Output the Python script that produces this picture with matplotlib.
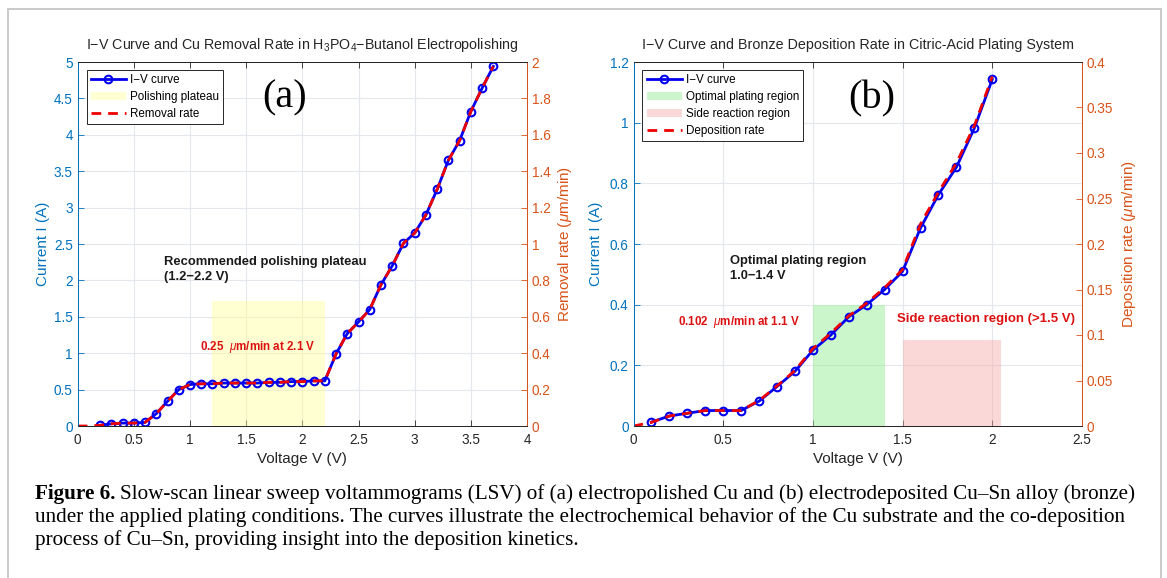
import matplotlib
matplotlib.use("Agg")
import matplotlib.pyplot as plt
from matplotlib.patches import Rectangle
import numpy as np

# ---------------- data ----------------
# Panel (a): H3PO4-butanol electropolishing
v_a = [0.2, 0.3, 0.4, 0.5, 0.6, 0.7, 0.8, 0.9, 1.0, 1.1, 1.2, 1.3, 1.4, 1.5, 1.6,
       1.7, 1.8, 1.9, 2.0, 2.1, 2.2, 2.3, 2.4, 2.5, 2.6, 2.7, 2.8, 2.9, 3.0, 3.1,
       3.2, 3.3, 3.4, 3.5, 3.6, 3.7]
i_a = [0.01, 0.03, 0.04, 0.04, 0.05, 0.17, 0.34, 0.50, 0.57, 0.58, 0.58, 0.59,
       0.59, 0.59, 0.59, 0.60, 0.60, 0.61, 0.61, 0.62, 0.62, 0.99, 1.27, 1.43,
       1.60, 1.94, 2.20, 2.51, 2.65, 2.90, 3.25, 3.65, 3.92, 4.32, 4.64, 4.94]
v_rate_a = [0.0, 0.1, 0.2, 0.3, 0.4, 0.5, 0.6, 0.7, 0.8, 0.9, 1.0, 1.1, 1.2, 1.3,
            1.4, 1.5, 1.6, 1.7, 1.8, 1.9, 2.0, 2.1, 2.2, 2.3, 2.4, 2.5, 2.6, 2.7,
            2.8, 2.9, 3.0, 3.1, 3.2, 3.3, 3.4, 3.5, 3.6, 3.7]
rate_a = [0.0, 0.0, 0.004, 0.012, 0.016, 0.016, 0.020, 0.068, 0.136, 0.200, 0.228,
          0.232, 0.232, 0.236, 0.236, 0.236, 0.236, 0.240, 0.240, 0.244, 0.244,
          0.248, 0.248, 0.396, 0.508, 0.572, 0.640, 0.776, 0.880, 1.004, 1.060,
          1.160, 1.300, 1.460, 1.568, 1.728, 1.856, 1.976]
plateau_a = (1.2, 2.2)
plateau_top_a = 1.72

# Panel (b): citric-acid bronze plating
v_b = [0.1, 0.2, 0.3, 0.4, 0.5, 0.6, 0.7, 0.8, 0.9, 1.0, 1.1, 1.2, 1.3, 1.4, 1.5,
       1.6, 1.7, 1.8, 1.9, 2.0]
i_b = [0.013, 0.033, 0.042, 0.051, 0.051, 0.051, 0.082, 0.13, 0.18, 0.25, 0.30,
       0.36, 0.40, 0.45, 0.51, 0.653, 0.763, 0.853, 0.982, 1.143]
v_rate_b = [0.0, 0.1, 0.2, 0.3, 0.4, 0.5, 0.6, 0.7, 0.8, 0.9, 1.0, 1.1, 1.2, 1.3,
            1.4, 1.5, 1.6, 1.7, 1.8, 1.9, 2.0]
rate_b = [0.0, 0.004, 0.011, 0.014, 0.017, 0.017, 0.017, 0.028, 0.044, 0.061,
          0.085, 0.102, 0.121, 0.135, 0.152, 0.172, 0.222, 0.257, 0.289, 0.330,
          0.384]
optimal_b = (1.0, 1.4)
optimal_top_b = 0.40
side_b = (1.5, 2.05)
side_top_b = 0.285

caption_lines = [
    "Slow-scan linear sweep voltammograms (LSV) of (a) electropolished Cu and (b) electrodeposited Cu\u2013Sn alloy (bronze)",
    "under the applied plating conditions. The curves illustrate the electrochemical behavior of the Cu substrate and the co-deposition",
    "process of Cu\u2013Sn, providing insight into the deposition kinetics.",
]

# ---------------- style ----------------
plt.rcParams['font.family'] = ['Liberation Sans', 'DejaVu Sans']
plt.rcParams['mathtext.fontset'] = 'custom'
plt.rcParams['mathtext.rm'] = 'Liberation Sans'
plt.rcParams['mathtext.it'] = 'Liberation Sans:italic'
plt.rcParams['mathtext.bf'] = 'Liberation Sans:bold'

C_LEFT = '#0072BD'
C_RIGHT = '#D95319'
C_AX = '#262626'
C_GRID = '#E4E8EC'

W, H = 1167, 578
fig = plt.figure(figsize=(W / 100, H / 100), dpi=100)

# outer frame
fig.add_artist(Rectangle((8 / W, -0.1), (1161 - 8) / W, 1.1 - 9 / H,
                         transform=fig.transFigure, fill=False,
                         edgecolor='#C9C9C9', linewidth=1.4))

fmt = matplotlib.ticker.FuncFormatter(lambda v, p: ('%g' % round(v, 3)))
TICK_FS = 9.8
LAB_FS = 11


def style_axes(ax1, ax2, xlim, xticks, ylim1, yticks1, ylim2, yticks2):
    ax1.set_xlim(*xlim)
    ax1.set_ylim(*ylim1)
    ax2.set_ylim(*ylim2)
    ax1.set_xticks(xticks)
    ax1.set_yticks(yticks1)
    ax2.set_yticks(yticks2)
    ax1.xaxis.set_major_formatter(fmt)
    ax1.yaxis.set_major_formatter(fmt)
    ax2.yaxis.set_major_formatter(fmt)
    ax1.grid(True, color=C_GRID, linewidth=0.8)
    ax1.set_axisbelow(True)
    ax1.tick_params(axis='x', direction='in', top=True, length=4.5, width=0.6,
                    colors=C_AX, labelsize=TICK_FS, pad=5)
    ax1.tick_params(axis='y', direction='in', left=True, right=False, length=4.5,
                    width=0.6, colors=C_LEFT, labelsize=TICK_FS)
    ax2.tick_params(axis='y', direction='in', right=True, left=False, length=4.5,
                    width=0.6, colors=C_RIGHT, labelsize=TICK_FS)
    for a in (ax1, ax2):
        a.spines['top'].set_color(C_AX)
        a.spines['bottom'].set_color(C_AX)
        a.spines['left'].set_color(C_LEFT)
        a.spines['right'].set_color(C_RIGHT)
        for s in a.spines.values():
            s.set_linewidth(0.7)


leg_kw = dict(loc='upper left', bbox_to_anchor=(0.02, 0.978), fontsize=8.4,
              frameon=True, fancybox=False, edgecolor=C_AX, framealpha=1,
              handlelength=3.0, handletextpad=0.35, borderpad=0.35,
              labelspacing=0.42, borderaxespad=0)

# ---------------- panel (a) ----------------
ax1 = fig.add_axes([77.7 / W, (H - 426) / H, 449.3 / W, 364 / H])
ax2 = ax1.twinx()
style_axes(ax1, ax2, (0, 4), np.arange(0, 4.01, 0.5), (0, 5), np.arange(0, 5.01, 0.5),
           (0, 2), np.arange(0, 2.01, 0.2))

p_a = ax1.fill_between(plateau_a, 0, plateau_top_a, color='#FFFF99', alpha=0.45,
                       linewidth=0, label='Polishing plateau')
l_a, = ax1.plot(v_a, i_a, '-o', color='#0000EE', linewidth=2, markersize=5.5,
                markerfacecolor='none', markeredgewidth=1.5, label='I\u2212V curve')
r_a, = ax2.plot(v_rate_a, rate_a, '--', color='#EE0000', linewidth=2,
                dashes=(3.5, 2.5), label='Removal rate')

ax1.set_xlabel('Voltage V (V)', fontsize=LAB_FS, color=C_AX, labelpad=4)
ax1.set_ylabel('Current I (A)', fontsize=LAB_FS, color=C_LEFT, labelpad=3)
ax2.set_ylabel(r'Removal rate ($\mu$m/min)', fontsize=LAB_FS, color=C_RIGHT, labelpad=4)
ax1.set_title('I\u2212V Curve and Cu Removal Rate in H$_3$PO$_4$\u2212Butanol Electropolishing',
              fontsize=10.3, color=C_AX, pad=9)

ax1.text(1.84, 4.5, '(a)', fontsize=29, family='Liberation Serif', ha='center',
         va='center', color='black')
ax1.text(0.77, 2.15, 'Recommended polishing plateau\n(1.2\u22122.2 V)', fontsize=9.4,
         fontweight='bold', color='#1A1A1A', ha='left', va='center', linespacing=1.35)
ax1.text(1.09, 1.08, r'0.25  $\mathit{\mu}$m/min at 2.1 V', fontsize=8.4,
         fontweight='bold', color='#DD1111', ha='left', va='center')

leg = ax2.legend([l_a, p_a, r_a], ['I\u2212V curve', 'Polishing plateau', 'Removal rate'],
                 **leg_kw)
leg.get_frame().set_linewidth(0.7)

# ---------------- panel (b) ----------------
bx1 = fig.add_axes([633.5 / W, (H - 426) / H, 448.5 / W, 364 / H])
bx2 = bx1.twinx()
style_axes(bx1, bx2, (0, 2.5), np.arange(0, 2.51, 0.5), (0, 1.2), np.arange(0, 1.21, 0.2),
           (0, 0.4), np.arange(0, 0.401, 0.05))

g_b = bx1.fill_between(optimal_b, 0, optimal_top_b, color='#99EE99', alpha=0.5,
                       linewidth=0, label='Optimal plating region')
s_b = bx1.fill_between(side_b, 0, side_top_b, color='#F5AAAA', alpha=0.45,
                       linewidth=0, label='Side reaction region')
l_b, = bx1.plot(v_b, i_b, '-o', color='#0000EE', linewidth=2, markersize=5.5,
                markerfacecolor='none', markeredgewidth=1.5, label='I\u2212V curve')
r_b, = bx2.plot(v_rate_b, rate_b, '--', color='#EE0000', linewidth=2,
                dashes=(3.5, 2.5), label='Deposition rate')

bx1.set_xlabel('Voltage V (V)', fontsize=LAB_FS, color=C_AX, labelpad=4)
bx1.set_ylabel('Current I (A)', fontsize=LAB_FS, color=C_LEFT, labelpad=5)
bx2.set_ylabel(r'Deposition rate ($\mu$m/min)', fontsize=LAB_FS, color=C_RIGHT, labelpad=5)
bx1.set_title('I\u2212V Curve and Bronze Deposition Rate in Citric-Acid Plating System',
              fontsize=10.3, color=C_AX, pad=9)

bx1.text(1.33, 1.08, '(b)', fontsize=29, family='Liberation Serif', ha='center',
         va='center', color='black')
bx1.text(0.54, 0.52, 'Optimal plating region\n1.0\u22121.4 V', fontsize=9.3,
         fontweight='bold', color='#1A1A1A', ha='left', va='center', linespacing=1.35)
bx1.text(0.25, 0.343, r'0.102  $\mathit{\mu}$m/min at 1.1 V', fontsize=8.4,
         fontweight='bold', color='#DD1111', ha='left', va='center')
bx1.text(1.47, 0.353, 'Side reaction region (>1.5 V)', fontsize=9.5,
         fontweight='bold', color='#DD1111', ha='left', va='center')

leg2 = bx2.legend([l_b, g_b, s_b, r_b],
                  ['I\u2212V curve', 'Optimal plating region', 'Side reaction region',
                   'Deposition rate'], **leg_kw)
leg2.get_frame().set_linewidth(0.7)

# ---------------- caption ----------------
cap_fs = 15.2
x0 = 35 / W
baselines = [499, 522, 545]
t_bold = fig.text(x0, 1 - baselines[0] / H, 'Figure 6.', fontsize=cap_fs,
                  family='Liberation Serif', fontweight='bold', va='baseline',
                  ha='left', color='black')
fig.canvas.draw()
bb = t_bold.get_window_extent(renderer=fig.canvas.get_renderer())
x1 = bb.x1 / W + 5 / W
fig.text(x1, 1 - baselines[0] / H, caption_lines[0], fontsize=cap_fs,
         family='Liberation Serif', va='baseline', ha='left', color='black')
for line, yb in zip(caption_lines[1:], baselines[1:]):
    fig.text(x0, 1 - yb / H, line, fontsize=cap_fs, family='Liberation Serif',
             va='baseline', ha='left', color='black')

fig.savefig('out.png', dpi=100, facecolor='white')
